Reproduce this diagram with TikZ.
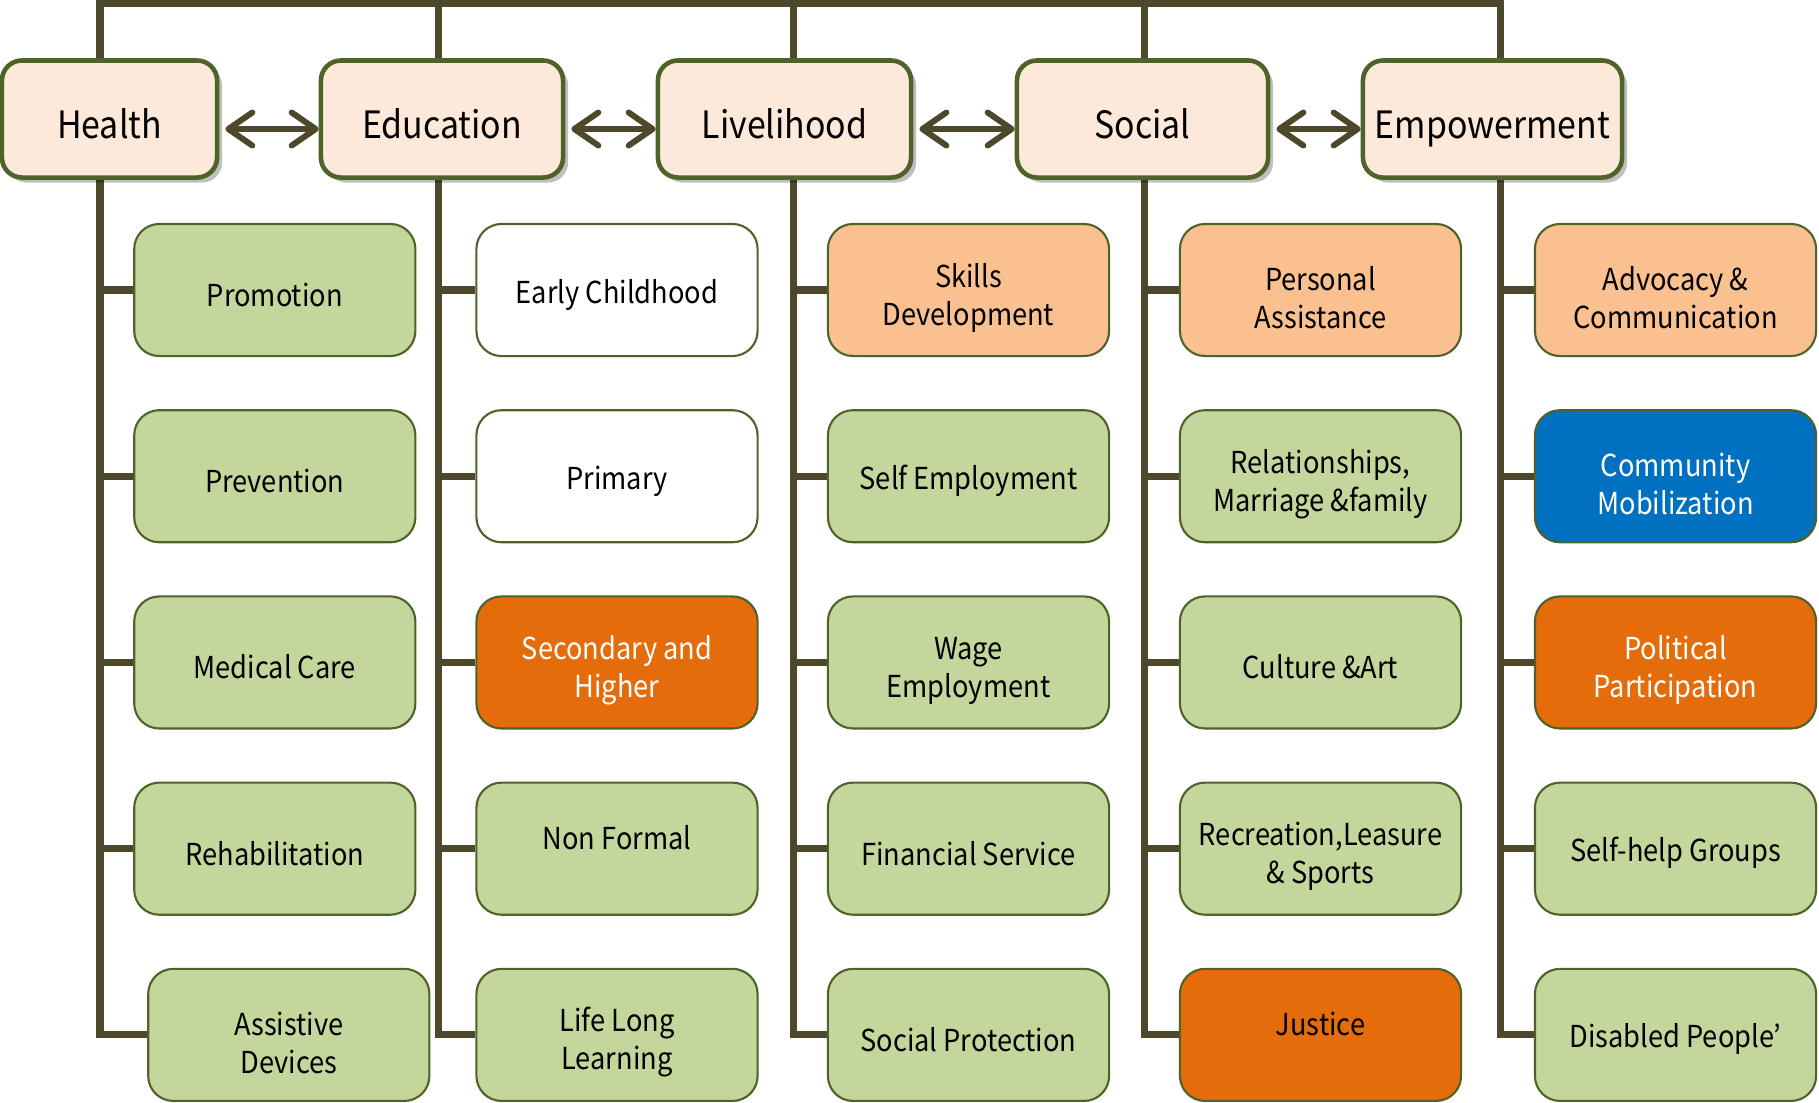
\documentclass[tikz,border=0pt]{standalone}
\usepackage{fontspec}
\setmainfont{Noto Sans CJK JP}[FakeStretch=0.9]
\usetikzlibrary{positioning}
\usetikzlibrary{arrows.meta}
\usetikzlibrary{shadows}
\usetikzlibrary{backgrounds}

\definecolor{spine}{HTML}{4D482B}
\definecolor{edgegreen}{HTML}{4F6228}
\definecolor{areafill}{HTML}{FDE9D9}
\definecolor{itemgreen}{HTML}{C3D69B}
\definecolor{itemsand}{HTML}{FAC090}
\definecolor{itemorange}{HTML}{E46C0A}
\definecolor{itemblue}{HTML}{0070C0}

% taller first line, so that two-line labels sit a little lower
\newcommand{\lift}{\rule{0pt}{11.2pt}}

\begin{document}
\begin{tikzpicture}[x=0.01cm, y=0.01cm, node distance=0.52cm,
    area/.style={draw=edgegreen, line width=1.3pt, rounded corners=0.2cm, fill=areafill,
        minimum height=1.17cm, inner xsep=2pt, text height=11.5pt, text depth=0.7pt,
        font=\fontsize{10.7}{12}\selectfont,
        drop shadow={shadow xshift=0.05cm, shadow yshift=-0.05cm, opacity=0.25, fill=black}},
    item/.style={draw=edgegreen, line width=0.6pt, rounded corners=0.25cm, fill=itemgreen,
        minimum width=2.81cm, minimum height=1.32cm, align=center, inner xsep=2pt,
        font=\fontsize{8.6}{10.8}\selectfont, execute at begin node={\rule{0pt}{9.4pt}}},
    tree/.style={spine, line width=2pt},
    link/.style={spine, line width=1.7pt, {Straight Barb[length=2.4mm, width=3.3mm, round]}-{Straight Barb[length=2.4mm, width=3.3mm, round]}}]

        \useasboundingbox (0,0) rectangle (1819,-1102);

        % main areas
        \node[area, minimum width=2.15cm] (health) at (109.5,-119) {Health};
        \node[area, minimum width=2.42cm] (edu) at (442,-119) {Education};
        \node[area, minimum width=2.53cm] (live) at (784.5,-119) {Livelihood};
        \node[area, minimum width=2.51cm] (social) at (1142.5,-119) {Social};
        \node[area, minimum width=2.59cm] (power) at (1492.5,-119) {Empowerment};

        \coordinate (hs) at (100,-3);
        \coordinate (es) at (438.5,-3);
        \coordinate (ls) at (793.5,-3);
        \coordinate (ss) at (1144,-3);
        \coordinate (ps) at (1500,-3);

        % health
        \node[item] (h1) at (274.8,-290) {Promotion};
        \node[item] (h2) [below=of h1] {Prevention};
        \node[item] (h3) [below=of h2] {Medical Care};
        \node[item] (h4) [below=of h3] {Rehabilitation};
        \node[item] (h5) [below=of h4, xshift=0.14cm] {\lift Assistive\\Devices};

        % education
        \node[item, fill=white] (e1) at (617,-290) {Early Childhood};
        \node[item, fill=white] (e2) [below=of e1] {Primary};
        \node[item, fill=itemorange, text=white] (e3) [below=of e2] {\lift Secondary and\\Higher};
        \node[item] (e4) [below=of e3] {\lift Non Formal\\~};
        \node[item] (e5) [below=of e4] {\lift Life Long\\Learning};

        % livelihood
        \node[item, fill=itemsand] (l1) at (968.5,-290) {\lift Skills\\Development};
        \node[item] (l2) [below=of l1] {Self Employment};
        \node[item] (l3) [below=of l2] {\lift Wage\\Employment};
        \node[item] (l4) [below=of l3] {Financial Service};
        \node[item] (l5) [below=of l4] {Social Protection};

        % social
        \node[item, fill=itemsand] (s1) at (1320.5,-290) {\lift Personal\\Assistance};
        \node[item] (s2) [below=of s1] {\lift Relationships,\\Marriage \&family};
        \node[item] (s3) [below=of s2] {Culture \&Art};
        \node[item] (s4) [below=of s3] {\lift Recreation,Leasure\\\& Sports};
        \node[item, fill=itemorange] (s5) [below=of s4] {\lift Justice\\~};

        % empowerment
        \node[item, fill=itemsand] (p1) at (1675.5,-290) {\lift Advocacy \&\\Communication};
        \node[item, fill=itemblue, text=white] (p2) [below=of p1] {\lift Community\\Mobilization};
        \node[item, fill=itemorange, text=white] (p3) [below=of p2] {\lift Political\\Participation};
        \node[item] (p4) [below=of p3] {Self-help Groups};
        \node[item] (p5) [below=of p4] {Disabled People’};

        \begin{scope}[on background layer]
            \draw[tree] (h5.west) -| (hs) -- (ps) |- (p5.west);
            \draw[tree] (es) |- (e5.west);
            \draw[tree] (ls) |- (l5.west);
            \draw[tree] (ss) |- (s5.west);

            \draw[tree] (h1.west) -- (h1.west -| hs) (h2.west) -- (h2.west -| hs)
                  (h3.west) -- (h3.west -| hs) (h4.west) -- (h4.west -| hs);
            \draw[tree] (e1.west) -- (e1.west -| es) (e2.west) -- (e2.west -| es)
                  (e3.west) -- (e3.west -| es) (e4.west) -- (e4.west -| es);
            \draw[tree] (l1.west) -- (l1.west -| ls) (l2.west) -- (l2.west -| ls)
                  (l3.west) -- (l3.west -| ls) (l4.west) -- (l4.west -| ls);
            \draw[tree] (s1.west) -- (s1.west -| ss) (s2.west) -- (s2.west -| ss)
                  (s3.west) -- (s3.west -| ss) (s4.west) -- (s4.west -| ss);
            \draw[tree] (p1.west) -- (p1.west -| ps) (p2.west) -- (p2.west -| ps)
                  (p3.west) -- (p3.west -| ps) (p4.west) -- (p4.west -| ps);
        \end{scope}

        \begin{scope}[link, shorten <=0.06cm]
            \draw ([yshift=-0.1cm]health.east) -- ([yshift=-0.1cm]edu.west);
            \draw ([yshift=-0.1cm]edu.east) -- ([yshift=-0.1cm]live.west);
            \draw ([yshift=-0.1cm]live.east) -- ([yshift=-0.1cm]social.west);
            \draw ([yshift=-0.1cm]social.east) -- ([yshift=-0.1cm]power.west);
        \end{scope}

    \end{tikzpicture}
\end{document}
